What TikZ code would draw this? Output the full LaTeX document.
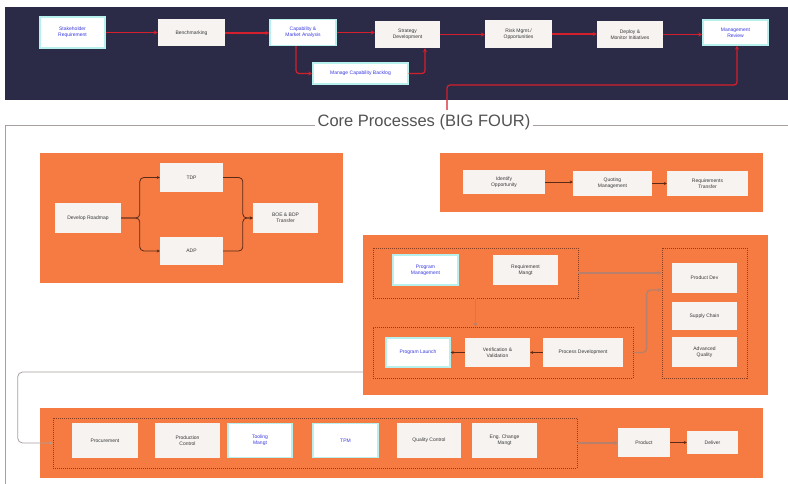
\documentclass[tikz,border=0pt]{standalone}
\usepackage{fontspec}
\setmainfont{Liberation Sans}
\usetikzlibrary{arrows.meta}
\definecolor{band}{HTML}{2C2B47}
\definecolor{org}{HTML}{F67B42}
\definecolor{bfill}{HTML}{F6F3F1}
\definecolor{cyb}{HTML}{B8F0EE}
\definecolor{bluet}{HTML}{3A3AE0}
\definecolor{redl}{HTML}{D4202C}
\definecolor{grayl}{HTML}{A8A09C}
\definecolor{gconnc}{HTML}{B8806A}
\definecolor{dotc}{HTML}{8A3E1E}
\definecolor{txt}{HTML}{3A3A3A}
\definecolor{darkc}{HTML}{5A2A18}
\begin{document}
\begin{tikzpicture}[x=1pt,y=-1pt,
  bx/.style={fill=bfill, text=txt, font=\fontsize{5}{6}\selectfont, align=center, inner sep=1pt},
  cx/.style={bx, fill=white, draw=cyb, line width=1.3pt, text=bluet},
  obox/.style={fill=org, draw=none, inner sep=0pt},
  grp/.style={draw=dotc, dash pattern=on 1pt off 1pt, line width=0.7pt, inner sep=0pt},
  redarrow/.style={draw=redl, line width=1.2pt, -{Stealth[length=4pt,width=4pt]}, rounded corners=3pt},
  darr/.style={draw=darkc, line width=0.8pt, -{Stealth[length=3pt,width=3pt]}, rounded corners=4pt},
  garr/.style={draw=gconnc, line width=1.4pt, -{Stealth[length=4pt,width=4pt]}, rounded corners=4pt},
  gline/.style={draw=grayl, line width=0.8pt, -{Stealth[length=3pt,width=3pt]}, rounded corners=5pt}]
\useasboundingbox (0,0) rectangle (788,484);
\fill[white] (0,0) rectangle (788,484);
% top band
\fill[band] (5,7) rectangle (788,100);
\node[cx, minimum width=65pt, minimum height=31pt] (sr) at (72.5,32.5) {Stakeholder\\Requirement};
\node[bx, minimum width=67pt, minimum height=27pt] (bm) at (191.5,33) {Benchmarking};
\node[cx, minimum width=66pt, minimum height=26pt] (cm) at (303,32.5) {Capability \&\\Market Analysis};
\node[bx, minimum width=65pt, minimum height=27pt] (sd) at (407.5,34.5) {Strategy\\Development};
\node[bx, minimum width=67pt, minimum height=28pt] (rm) at (518.5,34) {Risk Mgmt./\\Opportunities};
\node[bx, minimum width=66pt, minimum height=27pt] (dm) at (630,34.5) {Deploy \&\\Monitor Initiatives};
\node[cx, minimum width=65pt, minimum height=25pt] (mr) at (735.5,32.5) {Management\\Review};
\node[cx, minimum width=95pt, minimum height=21pt] (mb) at (360.5,73.5) {Manage Capability Backlog};
\draw[redarrow] (sr.east) -- (sr.east -| bm.west);
\draw[redarrow] (bm.east) -- (bm.east -| cm.west);
\draw[redarrow] (cm.east) -- (cm.east -| sd.west);
\draw[redarrow] (sd.east) -- (sd.east -| rm.west);
\draw[redarrow] (rm.east) -- (rm.east -| dm.west);
\draw[redarrow] (dm.east) -- (dm.east -| mr.west);
\draw[redarrow] ([xshift=-7pt]cm.south) |- (mb.west);
\draw[redarrow] (mb.east) -| ([xshift=17.5pt]sd.south);
% title
\node[font=\fontsize{16.5}{18}\selectfont, text=black!68, inner sep=2pt] (title) at (424,122) {Core Processes (BIG FOUR)};
\coordinate (ct) at (447,110);
\coordinate (mrb) at (737,85);
\draw[redarrow] (ct) |- (mrb) -- (mrb |- mr.south);
\draw[draw=grayl, line width=0.8pt] (5,484) -- (5,125) -- (title.west |- 0,125);
\draw[draw=grayl, line width=0.8pt] (title.east |- 0,125) -- (788,125);
% box A
\node[obox, minimum width=303pt, minimum height=130pt] (A) at (191.5,218) {};
\node[bx, minimum width=66pt, minimum height=30pt] (dr) at (88,218) {Develop Roadmap};
\node[bx, minimum width=63pt, minimum height=29pt] (tdp) at (191.5,177.5) {TDP};
\node[bx, minimum width=63pt, minimum height=28pt] (adp) at (191.5,251) {ADP};
\node[bx, minimum width=65pt, minimum height=30pt] (boe) at (285.5,218) {BOE \& BDP\\Transfer};
\draw[darr] (dr.east) -| ([xshift=-20pt]tdp.west) -- (tdp.west);
\draw[darr] (dr.east) -| ([xshift=-20pt]adp.west) -- (adp.west);
\draw[darr] (tdp.east) -| ([xshift=-10pt]boe.west) -- (boe.west);
\draw[darr] (adp.east) -| ([xshift=-10pt]boe.west) -- (boe.west);
% box B
\node[obox, minimum width=323pt, minimum height=59pt] (B) at (601.5,182.5) {};
\node[bx, minimum width=82pt, minimum height=24pt] (io) at (504,182) {Identify\\Opportunity};
\node[bx, minimum width=79pt, minimum height=25pt] (qm) at (612.5,183.5) {Quoting\\Management};
\node[bx, minimum width=81pt, minimum height=25pt] (rt) at (707.5,183.5) {Requirements\\Transfer};
\draw[darr] (io.east) -- (io.east -| qm.west);
\draw[darr] (qm.east) -- (qm.east -| rt.west);
% box C
\node[obox, minimum width=405pt, minimum height=160pt] (C) at (565.5,315) {};
\node[grp, minimum width=205pt, minimum height=50pt] (g1) at (475.5,273) {};
\node[grp, minimum width=260pt, minimum height=51pt] (g2) at (503,352.5) {};
\node[grp, minimum width=85pt, minimum height=130pt] (g3) at (704.5,313) {};
\node[cx, minimum width=65pt, minimum height=30pt] (pm) at (425.5,270) {Program\\Management};
\node[bx, minimum width=65pt, minimum height=30pt] (re) at (525.5,270) {Requirement\\Mangt};
\node[cx, minimum width=64pt, minimum height=29pt] (pl) at (418,352.5) {Program Launch};
\node[bx, minimum width=65pt, minimum height=29pt] (vv) at (497.5,352.5) {Verification \&\\Validation};
\node[bx, minimum width=80pt, minimum height=29pt] (pd) at (583,352.5) {Process Development};
\node[bx, minimum width=65pt, minimum height=30pt] (pdev) at (704.5,278) {Product Dev};
\node[bx, minimum width=65pt, minimum height=28pt] (sc) at (704.5,316) {Supply Chain};
\node[bx, minimum width=65pt, minimum height=30pt] (aq) at (704.5,352) {Advanced\\Quality};
\draw[darr] (pd.west) -- (pd.west -| vv.east);
\draw[darr] (vv.west) -- (vv.west -| pl.east);
\draw[garr] (g1.east) -- (g1.east -| g3.west);
\draw[garr] (g1.south) -- (g1.south |- g2.north);
\draw[garr] (g2.east) -| ([xshift=-15pt,yshift=23pt]g3.west) -- ([yshift=23pt]g3.west);
% box D
\node[obox, minimum width=723pt, minimum height=70pt] (D) at (401.5,443) {};
\node[grp, minimum width=524pt, minimum height=50pt] (gD) at (315,443) {};
\node[bx, minimum width=66pt, minimum height=35pt] (proc) at (105,440.5) {Procurement};
\node[bx, minimum width=65pt, minimum height=35pt] (pc) at (187.5,440.5) {Production\\Control};
\node[cx, minimum width=64pt, minimum height=34pt] (tm) at (260,440.5) {Tooling\\Mangt};
\node[cx, minimum width=65pt, minimum height=34pt] (tpm) at (345.5,440.5) {TPM};
\node[bx, minimum width=64pt, minimum height=35pt] (qc) at (429,440.5) {Quality Control};
\node[bx, minimum width=65pt, minimum height=35pt] (ecm) at (504.5,440.5) {Eng. Change\\Mangt};
\node[bx, minimum width=52pt, minimum height=29pt] (prod) at (644,442.5) {Product};
\node[bx, minimum width=51pt, minimum height=23pt] (del) at (712.5,442.5) {Deliver};
\draw[garr] (gD.east) -- (gD.east -| prod.west);
\draw[darr] (prod.east) -- (prod.east -| del.west);
% link C -> D
\draw[gline] ([yshift=-57pt]C.west) -| ([xshift=-35pt]gD.west) -- (gD.west);
\end{tikzpicture}
\end{document}
